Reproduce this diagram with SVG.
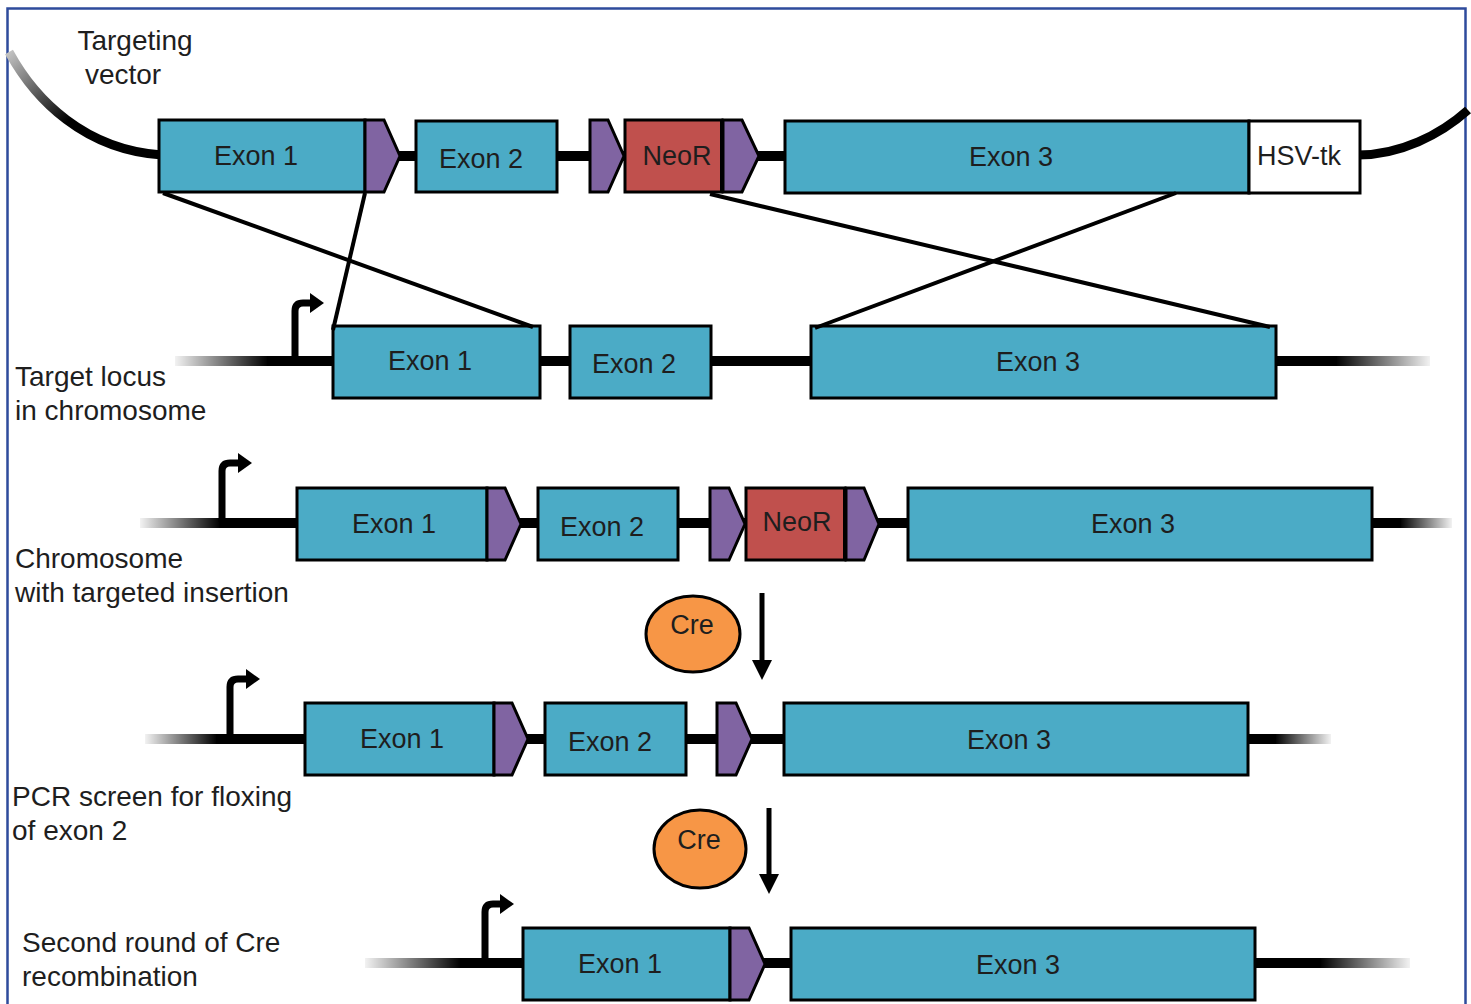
<svg xmlns="http://www.w3.org/2000/svg" width="1471" height="1004" viewBox="0 0 1471 1004">
<defs>
<linearGradient id="fadeL" x1="0" y1="0" x2="1" y2="0"><stop offset="0" stop-color="#000" stop-opacity="0.05"/><stop offset="1" stop-color="#000" stop-opacity="1"/></linearGradient>
<linearGradient id="fadeR" x1="0" y1="0" x2="1" y2="0"><stop offset="0" stop-color="#000" stop-opacity="1"/><stop offset="1" stop-color="#000" stop-opacity="0.05"/></linearGradient>
<linearGradient id="curveL" gradientUnits="userSpaceOnUse" x1="8" y1="50" x2="70" y2="120"><stop offset="0" stop-color="#c8c8c8"/><stop offset="1" stop-color="#000"/></linearGradient>
</defs>
<style>
.exon{fill:#4babc6;stroke:#000;stroke-width:3}
.neo{fill:#c0504d;stroke:#000;stroke-width:3}
.hsv{fill:#fff;stroke:#000;stroke-width:3}
.lox{fill:#8064a2;stroke:#000;stroke-width:3;stroke-linejoin:miter}
.cre{fill:#f79646;stroke:#000;stroke-width:3}
.t{font-family:"Liberation Sans",Arial,sans-serif;font-size:27px;fill:#1e1e1e;text-anchor:middle}
.lab{font-family:"Liberation Sans",Arial,sans-serif;font-size:28px;fill:#1e1e1e}
.chr{fill:#000}
.prom{fill:none;stroke:#000;stroke-width:7}
.cross{stroke:#000;stroke-width:4;fill:none}
.down{stroke:#000;stroke-width:5}
</style>
<rect x="0" y="0" width="1471" height="1004" fill="#fff"/>
<rect x="7.5" y="8.5" width="1458" height="1020" fill="none" stroke="#2e4b9c" stroke-width="2.5"/>

<!-- Row 1: targeting vector -->
<g id="vector">
<path d="M 9 52 C 35 100, 85 150, 162 155" fill="none" stroke="url(#curveL)" stroke-width="9"/>
<path d="M 1358 155 C 1400 155, 1440 135, 1468 110" fill="none" stroke="#000" stroke-width="9"/>
<rect x="160" y="151" width="1200" height="10" class="chr"/>
<g id="v-exon1"><rect class="exon" x="159" y="120" width="206" height="72"/><text class="t" x="256" y="165">Exon 1</text></g>
<g id="v-lox1"><polygon class="lox" points="365,120 384,120 400,156 384,192 365,192"/></g>
<g id="v-exon2"><rect class="exon" x="416" y="121" width="141" height="71"/><text class="t" x="481" y="168">Exon 2</text></g>
<g id="v-lox2"><polygon class="lox" points="590,120 608,120 624,156 608,192 590,192"/></g>
<g id="v-neo"><rect class="neo" x="625" y="120" width="97" height="72"/><line x1="722" y1="120" x2="722" y2="192" stroke="#000" stroke-width="4"/><text class="t" x="677" y="165">NeoR</text></g>
<g id="v-lox3"><polygon class="lox" points="723,120 742,120 759,156 742,192 723,192"/></g>
<g id="v-exon3"><rect class="exon" x="785" y="121" width="464" height="72"/><text class="t" x="1011" y="166">Exon 3</text></g>
<g id="v-hsv"><rect class="hsv" x="1249" y="121" width="111" height="72"/><text class="t" x="1299" y="165">HSV-tk</text></g>
</g>
<g id="label-vector"><text class="lab" x="135" y="50" text-anchor="middle">Targeting</text><text class="lab" x="123" y="84" text-anchor="middle">vector</text></g>

<!-- Row 2: target locus -->
<g id="locus">
<rect x="175" y="356" width="93" height="10" fill="url(#fadeL)"/>
<rect x="267" y="356" width="1070" height="10" class="chr"/>
<rect x="1336" y="356" width="94" height="10" fill="url(#fadeR)"/>
<path class="prom" d="M 295 360 V 311 Q 295 303 303 303 H 312"/>
<polygon points="310,293 324,303 310,313" fill="#000"/>
<g id="l-exon1"><rect class="exon" x="333" y="326" width="207" height="72"/><text class="t" x="430" y="370">Exon 1</text></g>
<g id="l-exon2"><rect class="exon" x="570" y="326" width="141" height="72"/><text class="t" x="634" y="373">Exon 2</text></g>
<g id="l-exon3"><rect class="exon" x="811" y="326" width="465" height="72"/><text class="t" x="1038" y="371">Exon 3</text></g>
</g>
<g id="label-locus"><text class="lab" x="15" y="386">Target locus</text><text class="lab" x="15" y="420">in chromosome</text></g>

<!-- Recombination connectors -->
<g id="connectors">
<line class="cross" x1="163" y1="193" x2="533" y2="327"/>
<line class="cross" x1="365" y1="193" x2="333" y2="330"/>
<line class="cross" x1="710" y1="194" x2="1270" y2="327"/>
<line class="cross" x1="1176" y1="193" x2="815" y2="328"/>
<line class="down" x1="762" y1="593" x2="762" y2="662"/>
<polygon points="752,660 772,660 762,680" fill="#000"/>
<line class="down" x1="769" y1="808" x2="769" y2="876"/>
<polygon points="759,874 779,874 769,894" fill="#000"/>
</g>

<!-- Row 3: targeted insertion -->
<g id="insertion">
<rect x="140" y="518" width="80" height="10" fill="url(#fadeL)"/>
<rect x="219" y="518" width="1182" height="10" class="chr"/>
<rect x="1400" y="518" width="52" height="10" fill="url(#fadeR)"/>
<path class="prom" d="M 222 522 V 471 Q 222 463 230 463 H 240"/>
<polygon points="238,453 252,463 238,473" fill="#000"/>
<g id="i-exon1"><rect class="exon" x="297" y="488" width="190" height="72"/><text class="t" x="394" y="533">Exon 1</text></g>
<g id="i-lox1"><polygon class="lox" points="487,488 505,488 521,524 505,560 487,560"/></g>
<g id="i-exon2"><rect class="exon" x="538" y="488" width="140" height="72"/><text class="t" x="602" y="536">Exon 2</text></g>
<g id="i-lox2"><polygon class="lox" points="710,488 729,488 745,524 729,560 710,560"/></g>
<g id="i-neo"><rect class="neo" x="746" y="488" width="99" height="72"/><line x1="845" y1="488" x2="845" y2="560" stroke="#000" stroke-width="4"/><text class="t" x="797" y="531">NeoR</text></g>
<g id="i-lox3"><polygon class="lox" points="846,488 864,488 879,524 864,560 846,560"/></g>
<g id="i-exon3"><rect class="exon" x="908" y="488" width="464" height="72"/><text class="t" x="1133" y="533">Exon 3</text></g>
</g>
<g id="label-insertion"><text class="lab" x="15" y="568">Chromosome</text><text class="lab" x="15" y="602">with targeted insertion</text></g>

<g id="cre1"><ellipse class="cre" cx="693" cy="634" rx="47" ry="38"/><text class="t" x="692" y="634">Cre</text></g>

<!-- Row 4: PCR screen -->
<g id="floxed">
<rect x="145" y="734" width="72" height="10" fill="url(#fadeL)"/>
<rect x="216" y="734" width="1060" height="10" class="chr"/>
<rect x="1275" y="734" width="56" height="10" fill="url(#fadeR)"/>
<path class="prom" d="M 230 738 V 687 Q 230 679 238 679 H 248"/>
<polygon points="246,669 260,679 246,689" fill="#000"/>
<g id="f-exon1"><rect class="exon" x="305" y="703" width="189" height="72"/><text class="t" x="402" y="748">Exon 1</text></g>
<g id="f-lox1"><polygon class="lox" points="494,703 512,703 528,739 512,775 494,775"/></g>
<g id="f-exon2"><rect class="exon" x="545" y="703" width="141" height="72"/><text class="t" x="610" y="751">Exon 2</text></g>
<g id="f-lox2"><polygon class="lox" points="717,703 736,703 752,739 736,775 717,775"/></g>
<g id="f-exon3"><rect class="exon" x="784" y="703" width="464" height="72"/><text class="t" x="1009" y="749">Exon 3</text></g>
</g>
<g id="label-floxed"><text class="lab" x="12" y="806">PCR screen for floxing</text><text class="lab" x="12" y="840">of exon 2</text></g>

<g id="cre2"><ellipse class="cre" cx="700" cy="849" rx="46" ry="39"/><text class="t" x="699" y="849">Cre</text></g>

<!-- Row 5: second round -->
<g id="deleted">
<rect x="365" y="958" width="96" height="10" fill="url(#fadeL)"/>
<rect x="460" y="958" width="861" height="10" class="chr"/>
<rect x="1320" y="958" width="90" height="10" fill="url(#fadeR)"/>
<path class="prom" d="M 485 962 V 912 Q 485 904 493 904 H 502"/>
<polygon points="500,894 514,904 500,914" fill="#000"/>
<g id="d-exon1"><rect class="exon" x="523" y="928" width="207" height="72"/><text class="t" x="620" y="973">Exon 1</text></g>
<g id="d-lox1"><polygon class="lox" points="730,928 749,928 765,964 749,1000 730,1000"/></g>
<g id="d-exon3"><rect class="exon" x="791" y="928" width="464" height="72"/><text class="t" x="1018" y="974">Exon 3</text></g>
</g>
<g id="label-deleted"><text class="lab" x="22" y="952">Second round of Cre</text><text class="lab" x="22" y="986">recombination</text></g>
</svg>
